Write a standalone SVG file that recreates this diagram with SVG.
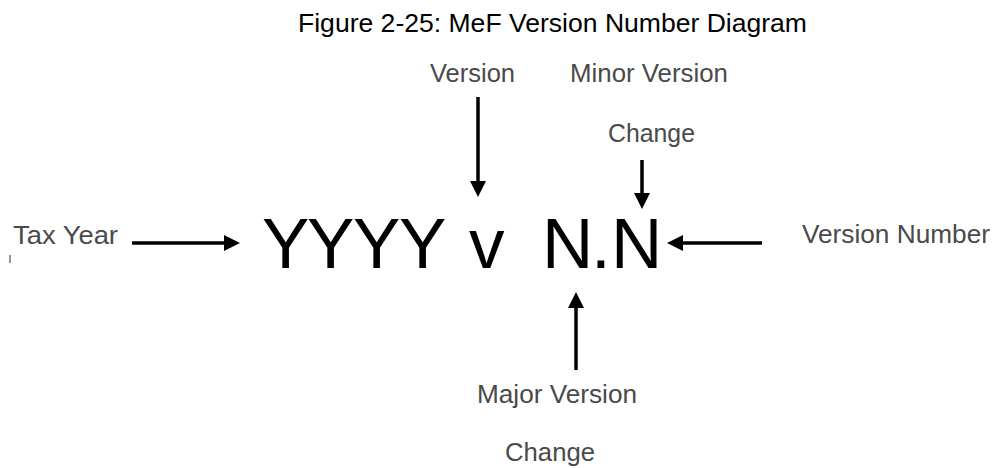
<svg xmlns="http://www.w3.org/2000/svg" width="995" height="468" viewBox="0 0 995 468">
  <style>
    text { font-family: "Liberation Sans", Arial, sans-serif; }
    .title { font-size: 25px; fill: #000; }
    .label { font-size: 25px; fill: #4a4a4a; }
    .big { font-size: 71px; fill: #000; }
    .conn line { stroke: #000; stroke-width: 3.5; fill: none; }
  </style>
  <defs>
    <marker id="head" markerUnits="userSpaceOnUse" markerWidth="18" markerHeight="18" refX="2" refY="8" orient="auto">
      <path d="M0,0 L16,8 L0,16 z" fill="#000"/>
    </marker>
  </defs>
  <rect width="995" height="468" fill="#fff"/>

  <g id="title">
    <text class="title" x="298" y="32" textLength="509" lengthAdjust="spacingAndGlyphs">Figure 2-25: MeF Version Number Diagram</text>
  </g>

  <g id="version-string">
    <text class="big" x="262 307 353 399" y="268">YYYY</text>
    <text class="big" x="469" y="268">v</text>
    <text class="big" x="542 591 611" y="268">N.N</text>
  </g>

  <g id="tax-year">
    <text class="label" x="13" y="244" textLength="105" lengthAdjust="spacingAndGlyphs">Tax Year</text>
    <line x1="10" y1="255" x2="10" y2="263" stroke="#777" stroke-width="1.5"/>
  </g>
  <g id="version">
    <text class="label" x="430" y="82" textLength="85" lengthAdjust="spacingAndGlyphs">Version</text>
  </g>
  <g id="minor-version">
    <text class="label" x="570" y="82" textLength="158" lengthAdjust="spacingAndGlyphs">Minor Version</text>
    <text class="label" x="608" y="142" textLength="87" lengthAdjust="spacingAndGlyphs">Change</text>
  </g>
  <g id="version-number">
    <text class="label" x="802" y="243" textLength="188" lengthAdjust="spacingAndGlyphs">Version Number</text>
  </g>
  <g id="major-version">
    <text class="label" x="477" y="403" textLength="160" lengthAdjust="spacingAndGlyphs">Major Version</text>
    <text class="label" x="505" y="461" textLength="90" lengthAdjust="spacingAndGlyphs">Change</text>
  </g>

  <g id="connectors" class="conn">
    <line x1="132" y1="243" x2="226" y2="243" marker-end="url(#head)"/>
    <line x1="478" y1="97" x2="478" y2="183" marker-end="url(#head)"/>
    <line x1="642" y1="160" x2="642" y2="195" marker-end="url(#head)"/>
    <line x1="762" y1="243" x2="681" y2="243" marker-end="url(#head)"/>
    <line x1="576" y1="370" x2="576" y2="306" marker-end="url(#head)"/>
  </g>
</svg>
